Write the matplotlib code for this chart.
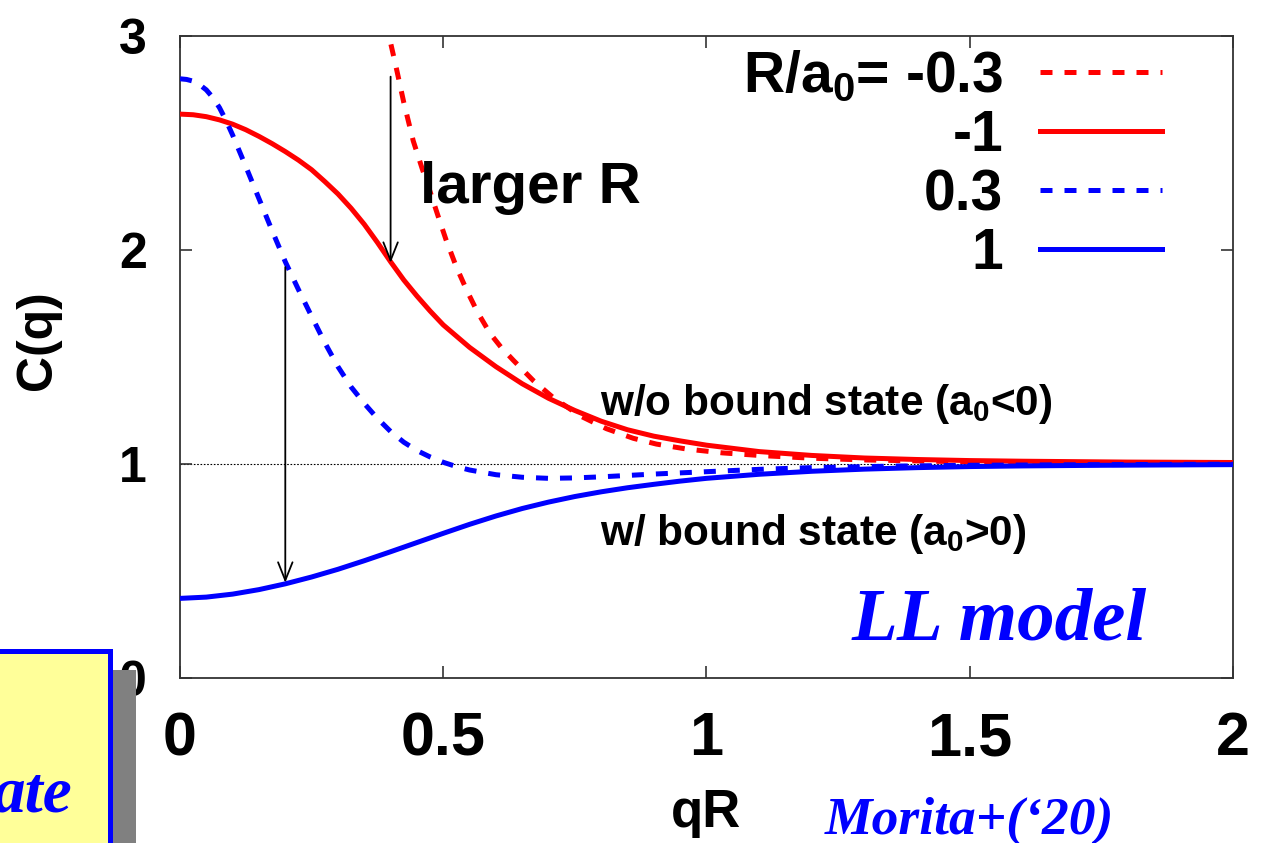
import matplotlib
matplotlib.use('Agg')
import matplotlib.pyplot as plt
from matplotlib.patches import Rectangle

plt.rcParams['font.family'] = ['Liberation Sans', 'DejaVu Sans']
plt.rcParams['font.weight'] = 'bold'
plt.rcParams['mathtext.fontset'] = 'custom'
plt.rcParams['mathtext.rm'] = 'Liberation Sans:bold'
plt.rcParams['mathtext.it'] = 'Liberation Sans:italic:bold'
plt.rcParams['mathtext.bf'] = 'Liberation Sans:bold'

# ---------------- data ----------------
# R/a0 = -0.3  (red dashed)
x_m03 = [0.39, 0.397, 0.41, 0.425, 0.443, 0.46, 0.474, 0.49, 0.505, 0.525, 0.545,
         0.565, 0.589, 0.61, 0.633, 0.671, 0.709, 0.76, 0.81, 0.861, 0.905, 0.962,
         1.03, 1.1, 1.2, 1.3, 1.5, 1.75, 2.0]
y_m03 = [3.07, 3.0, 2.86, 2.69, 2.51, 2.38, 2.28, 2.16, 2.05, 1.92, 1.81,
         1.71, 1.61, 1.545, 1.485, 1.39, 1.31, 1.225, 1.165, 1.12, 1.093, 1.07,
         1.052, 1.04, 1.027, 1.019, 1.01, 1.006, 1.004]

# R/a0 = -1  (red solid)
x_m1 = [0, 0.025, 0.05, 0.075, 0.1, 0.125, 0.15, 0.175, 0.2, 0.225, 0.25, 0.275,
        0.3, 0.325, 0.35, 0.375, 0.4, 0.425, 0.45, 0.475, 0.5, 0.55, 0.6, 0.65,
        0.7, 0.75, 0.8, 0.85, 0.9, 0.95, 1.0, 1.1, 1.2, 1.3, 1.4, 1.5, 1.6, 1.7,
        1.8, 1.9, 2.0]
y_m1 = [2.635, 2.632, 2.623, 2.608, 2.588, 2.562, 2.531, 2.497, 2.46, 2.42, 2.375,
        2.32, 2.262, 2.195, 2.12, 2.035, 1.945, 1.86, 1.785, 1.715, 1.65, 1.545,
        1.455, 1.375, 1.307, 1.25, 1.2, 1.16, 1.13, 1.108, 1.088, 1.058, 1.04,
        1.028, 1.021, 1.016, 1.013, 1.011, 1.009, 1.008, 1.007]

# R/a0 = 0.3  (blue dashed)
x_p03 = [0, 0.0125, 0.025, 0.0375, 0.05, 0.0625, 0.075, 0.0875, 0.1, 0.125, 0.15,
         0.175, 0.2, 0.225, 0.25, 0.275, 0.3, 0.325, 0.35, 0.375, 0.4, 0.425, 0.45,
         0.475, 0.5, 0.525, 0.55, 0.6, 0.65, 0.7, 0.75, 0.8, 0.9, 1.0, 1.1, 1.2,
         1.35, 1.5, 1.75, 2.0]
y_p03 = [2.80, 2.797, 2.789, 2.772, 2.748, 2.712, 2.665, 2.605, 2.537, 2.39, 2.24,
         2.09, 1.945, 1.815, 1.69, 1.567, 1.455, 1.36, 1.283, 1.213, 1.152, 1.102,
         1.063, 1.033, 1.008, 0.988, 0.972, 0.95, 0.938, 0.933, 0.935, 0.94, 0.953,
         0.964, 0.975, 0.983, 0.99, 0.994, 0.997, 0.999]

# R/a0 = 1  (blue solid)
x_p1 = [0, 0.05, 0.1, 0.15, 0.2, 0.25, 0.3, 0.35, 0.4, 0.45, 0.5, 0.55, 0.6, 0.65,
        0.7, 0.75, 0.8, 0.85, 0.9, 0.95, 1.0, 1.1, 1.2, 1.3, 1.4, 1.5, 1.6, 1.75, 2.0]
y_p1 = [0.372, 0.378, 0.392, 0.413, 0.44, 0.472, 0.508, 0.548, 0.59, 0.633, 0.676,
        0.718, 0.757, 0.792, 0.822, 0.848, 0.87, 0.889, 0.905, 0.92, 0.933, 0.952,
        0.966, 0.976, 0.983, 0.988, 0.991, 0.994, 0.997]

labels = ['R/a$_0$= -0.3', '-1', '0.3', '1']
x_ticks = [0, 0.5, 1, 1.5, 2]
x_ticklabels = ['0', '0.5', '1', '1.5', '2']
y_ticks = [0, 1, 2, 3]
y_ticklabels = ['0', '1', '2', '3']

# arrows (x, y_start, y_end)
arrow1 = (0.4, 2.81, 1.94)
arrow2 = (0.2, 1.92, 0.445)

# ---------------- figure ----------------
fig = plt.figure(figsize=(12.61, 8.43), dpi=100)
ax = fig.add_axes([0.14274, 0.19573, 0.83505, 0.76157])

RED = '#ff0000'
BLUE = '#0000ff'
LW = 3.6
DASH = (0, (2.4, 2.4))

ax.axhline(1.0, color='black', lw=0.8, ls=(0, (1.5, 1.5)), zorder=1)

ax.plot(x_m03, y_m03, color=RED, lw=LW, ls=DASH, label=labels[0], zorder=3)
ax.plot(x_m1, y_m1, color=RED, lw=LW, ls='-', label=labels[1], zorder=3)
ax.plot(x_p03, y_p03, color=BLUE, lw=LW, ls=DASH, label=labels[2], zorder=3)
ax.plot(x_p1, y_p1, color=BLUE, lw=LW, ls='-', label=labels[3], zorder=3)

ax.set_xlim(0, 2)
ax.set_ylim(0, 3)
ax.set_xticks(x_ticks)
ax.set_xticklabels(x_ticklabels)
ax.set_yticks(y_ticks)
ax.set_yticklabels(y_ticklabels)

ax.tick_params(axis='both', direction='in', length=8.6, width=1.2,
               top=True, right=True, color='#333333')
ax.tick_params(axis='x', labelsize=44, pad=24)
ax.tick_params(axis='y', labelsize=36, pad=24)
for s in ax.spines.values():
    s.set_linewidth(1.3)
    s.set_color('#333333')

ax.set_xlabel('qR', fontsize=38, fontweight='bold')
ax.xaxis.set_label_coords(0.5, -0.172)
ax.set_ylabel('C(q)', fontsize=36, fontweight='bold')
ax.yaxis.set_label_coords(-0.113, 0.526)

# arrows
for (xa, ys, ye) in (arrow1, arrow2):
    ax.annotate('', xy=(xa, ye), xytext=(xa, ys),
                arrowprops=dict(arrowstyle='->,head_length=0.65,head_width=0.26',
                                lw=1.3, color='black', shrinkA=0, shrinkB=0,
                                mutation_scale=20), zorder=4)

ax.text(0.456, 2.22, 'larger R', fontsize=42, fontweight='bold', va='baseline')
ax.text(0.798, 1.229, 'w/o bound state (a$_0$<0)', fontsize=30.5, fontweight='bold',
        va='baseline')
ax.text(0.798, 0.621, 'w/ bound state (a$_0$>0)', fontsize=30.5, fontweight='bold',
        va='baseline')
ax.text(1.276, 0.178, 'LL model', fontsize=54, family='Liberation Serif',
        style='italic', fontweight='bold', color=BLUE, va='baseline')

leg = ax.legend(loc='upper right', bbox_to_anchor=(0.9326, 0.9787), frameon=False,
                markerfirst=False, fontsize=41, handlelength=2.14,
                handletextpad=0.65, labelspacing=0.09, borderpad=0,
                borderaxespad=0)

# decoration: cut-off yellow box with shadow in the lower-left corner
shadow = Rectangle((-0.05, -0.05), 136 / 1261 + 0.05, (843 - 670) / 843 + 0.05,
                   transform=fig.transFigure, fc='#808080', ec='none', zorder=10)
fig.add_artist(shadow)
box = Rectangle((-0.05, -0.05), 110 / 1261 + 0.05, (843 - 651) / 843 + 0.05,
                transform=fig.transFigure, fc='#ffff99', ec=BLUE, lw=3.6, zorder=11)
fig.add_artist(box)
fig.text(72 / 1261, 1 - 812 / 843, 'ate', ha='right', va='baseline', fontsize=47,
         family='Liberation Serif', style='italic', fontweight='bold', color=BLUE,
         zorder=12)

fig.text(825 / 1261, 1 - 834 / 843, 'Morita+(\u201820)', ha='left', va='baseline',
         fontsize=38.5, family='Liberation Serif', style='italic', fontweight='bold',
         color=BLUE)

fig.savefig('out.png', dpi=100)
